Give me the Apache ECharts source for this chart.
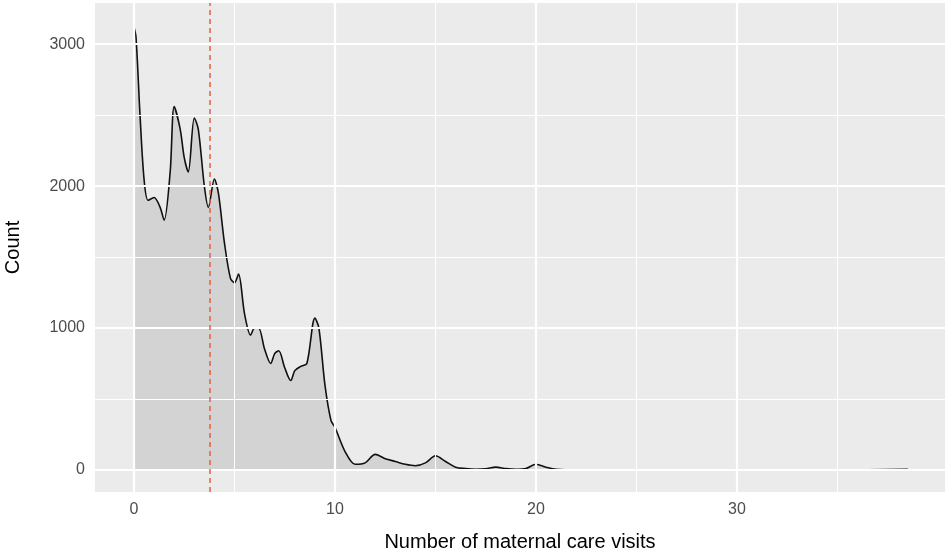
<!DOCTYPE html>
<html><head><meta charset="utf-8">
<script src="https://cdn.jsdelivr.net/npm/echarts@6/dist/echarts.min.js"></script>
<style>html,body{margin:0;padding:0;background:#fff}#c{width:952px;height:560px}</style>
</head><body><div id="c"></div>
<script>
const visits = [0,0,0.1,0.3,0.5,0.7,1.0,1.3,1.5,1.8,2.0,2.3,2.5,2.7,3.0,3.2,3.5,3.7,4.0,4.2,4.5,4.8,5.0,5.2,5.5,5.8,6.0,6.2,6.5,6.8,7.0,7.2,7.5,7.8,8.0,8.3,8.6,9.0,9.2,9.5,9.8,10,10.5,11,11.5,12,12.5,13,13.5,14,14.5,15,15.5,16,16.5,17,17.5,18,18.5,19,19.5,20,20.5,21,22,25,30,35,38.5];
const counts = [0,3120,3050,2500,2050,1900,1920,1850,1760,2100,2560,2400,2200,2100,2480,2400,2000,1850,2050,1950,1600,1350,1320,1380,1100,950,1000,1000,850,750,820,840,720,630,700,730,750,1070,1000,600,350,300,130,40,50,110,80,60,40,30,50,100,60,20,10,5,8,20,10,5,10,40,20,5,0,0,0,0,5];
const meanVisits = 3.78;
const xTicks = [0,10,20,30];
const xMinor = [-5,5,15,25,35];
const yTicks = [0,1000,2000,3000];
const yMinor = [500,1500,2500];
const data = visits.map((v,i)=>[v,counts[i]]);
const grid = (axis, vals, w) => vals.map(v => ({[axis]: v, lineStyle:{color:'#fff', width:w, type:'solid'}}));
const chart = echarts.init(document.getElementById('c'));
chart.setOption({
  animation:false,
  grid:{left:95,right:7,top:3,bottom:68,show:true,backgroundColor:'#EBEBEB',borderWidth:0,outerBoundsMode:'none'},
  xAxis:{type:'value',min:-1.94,max:40.35,splitLine:{show:false},
    axisLine:{show:false},
    axisTick:{customValues:xTicks,length:5,lineStyle:{color:'#333'}},
    axisLabel:{customValues:xTicks,color:'#4D4D4D',fontSize:16,fontFamily:'Arial, Liberation Sans',margin:10},
    name:'Number of maternal care visits',nameLocation:'middle',nameGap:40,
    nameTextStyle:{color:'#000',fontSize:20,fontFamily:'Arial, Liberation Sans'}},
  yAxis:{type:'value',min:-155,max:3290,splitLine:{show:false},
    axisLine:{show:false},
    axisTick:{customValues:yTicks,length:5,lineStyle:{color:'#333'}},
    axisLabel:{customValues:yTicks,formatter:v=>String(v),color:'#4D4D4D',fontSize:16,fontFamily:'Arial, Liberation Sans',margin:10},
    name:'Count',nameLocation:'middle',nameGap:72,
    nameTextStyle:{color:'#000',fontSize:20,fontFamily:'Arial, Liberation Sans'}},
  series:[
    {type:'line',data:[],silent:true,markLine:{silent:true,symbol:'none',label:{show:false},
      data:[...grid('xAxis',xMinor,1),...grid('yAxis',yMinor,1),...grid('xAxis',xTicks,2.2),...grid('yAxis',yTicks,2.2)]}},
    {type:'line',data:data,showSymbol:false,smooth:0.3,lineStyle:{color:'#111',width:1.6},
      areaStyle:{color:'#D3D3D3',opacity:1},
      markLine:{silent:true,symbol:'none',label:{show:false},
        data:[{xAxis:meanVisits,lineStyle:{color:'#E0633A',type:[5,4],width:1.5}}]}}
  ]
});
</script></body></html>
